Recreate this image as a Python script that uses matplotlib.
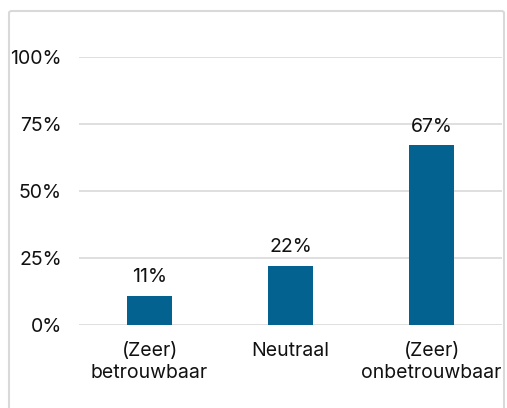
import matplotlib
matplotlib.use("Agg")
import matplotlib.pyplot as plt
from matplotlib.patches import FancyBboxPatch

categories = ["(Zeer)\nbetrouwbaar", "Neutraal", "(Zeer)\nonbetrouwbaar"]
values = [11, 22, 67]
yticks = [0, 25, 50, 75, 100]
ytick_labels = ["0%", "25%", "50%", "75%", "100%"]

plt.rcParams['font.family'] = ['Inter', 'DejaVu Sans']
fig = plt.figure(figsize=(5.07, 4.08), dpi=100)
W, H = 507, 408

border = FancyBboxPatch((9 / W, -0.05), (504 - 9) / W, 1.05 - 11 / H - 0.0,
                        boxstyle="round,pad=0,rounding_size=0.005",
                        transform=fig.transFigure, facecolor='white',
                        edgecolor='#d9d9d9', linewidth=1.5, zorder=-5)
fig.patches.append(border)

ax = fig.add_axes([79 / W, 1 - 325 / H, (502 - 79) / W, (325 - 57) / H])
ax.set_zorder(2)
ax.set_facecolor('none')
x = range(len(categories))
bars = ax.bar(x, values, width=0.32, color='#03628F', zorder=3)
for b, v in zip(bars, values):
    ax.annotate(f"{v}%", (b.get_x() + b.get_width() / 2, v), xytext=(0, 7),
                textcoords='offset points', ha='center', va='bottom',
                fontsize=14, color='#111111', annotation_clip=False)

ax.set_xlim(-0.5, 2.5)
ax.set_ylim(0, 100)
ax.set_yticks(yticks)
ax.set_yticklabels(ytick_labels)
ax.set_xticks(list(x))
ax.set_xticklabels(categories, linespacing=1.3)
ax.tick_params(axis='both', length=0, labelsize=14, colors='#111111')
ax.tick_params(axis='y', pad=12.5)
ax.tick_params(axis='x', pad=12)
for s in ax.spines.values():
    s.set_visible(False)
ax.grid(axis='y', color='#d9d9d9', linewidth=1.2, zorder=0)

fig.savefig("out.png", dpi=100)
